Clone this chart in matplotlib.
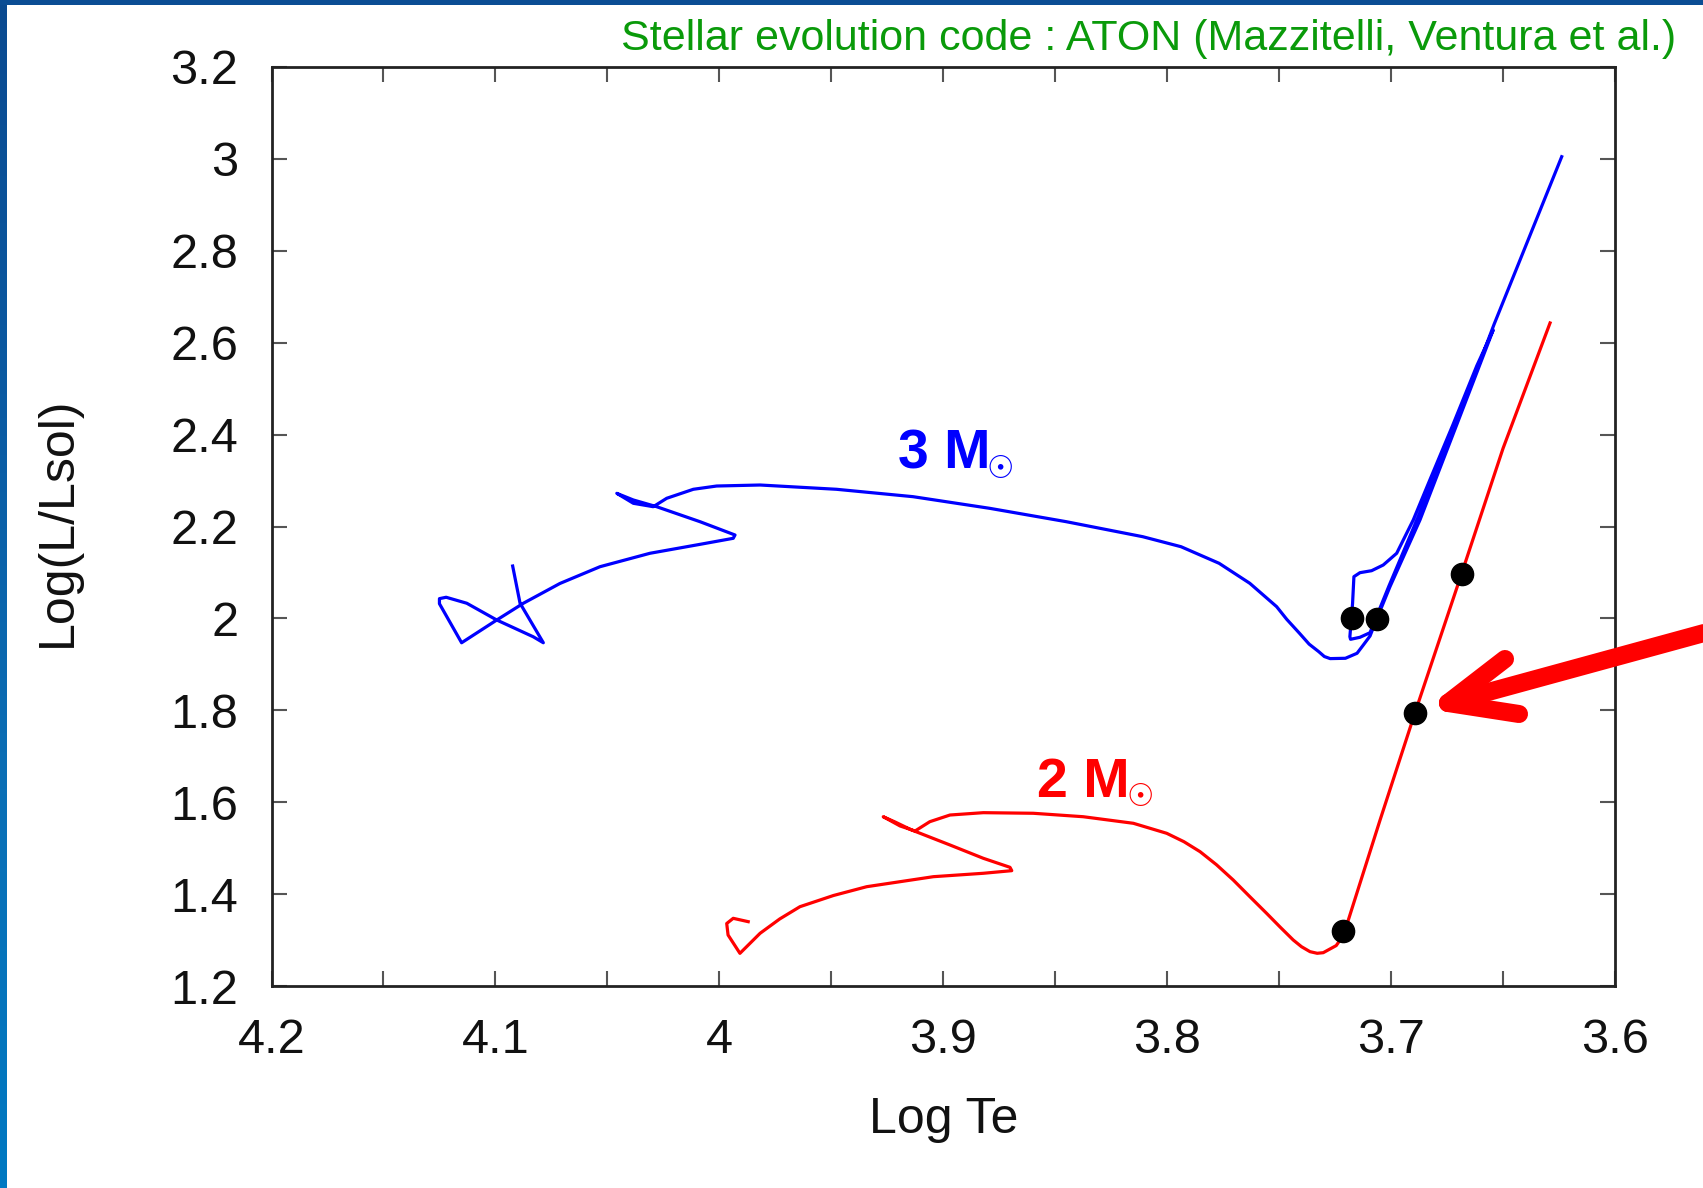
import matplotlib
matplotlib.use('Agg')
import matplotlib.pyplot as plt
from matplotlib.lines import Line2D
from matplotlib.patches import Rectangle
from matplotlib.colors import LinearSegmentedColormap
from matplotlib.ticker import MultipleLocator
import numpy as np

plt.rcParams['font.family'] = ['Liberation Sans', 'DejaVu Sans']

# ---------------- data ----------------
# 3 Msun track (Log Te, Log L/Lsun)
blue_logte = [4.0923, 4.0890, 4.0786, 4.0831, 4.0994, 4.1128, 4.1220, 4.1250,
              4.1250, 4.1151, 4.0994, 4.0875, 4.0712, 4.0533, 4.0310, 4.0086,
              3.9938, 3.9930, 4.0086, 4.0280, 4.0384, 4.0458, 4.0384, 4.0295,
              4.0235, 4.0116, 4.0012, 3.9818, 3.9477, 3.9135, 3.8793, 3.8451,
              3.8109, 3.7938, 3.7768, 3.7631, 3.7511, 3.7466, 3.7409, 3.7366,
              3.7323, 3.7298, 3.7272, 3.7204, 3.7152, 3.7124, 3.7094, 3.7064,
              3.7005, 3.6871, 3.6708, 3.6544, 3.6617, 3.6725, 3.6828, 3.6901,
              3.6975, 3.7035, 3.7087, 3.7139, 3.7166, 3.7172, 3.7184, 3.7181,
              3.7139, 3.7094, 3.7060, 3.7010, 3.6880, 3.6715, 3.6610, 3.6540,
              3.6238]
blue_logl = [2.114, 2.033, 1.947, 1.960, 1.9965, 2.033, 2.046, 2.043,
             2.032, 1.947, 1.9965, 2.033, 2.076, 2.1125, 2.1417, 2.1612,
             2.1743, 2.1815, 2.2104, 2.2431, 2.2577, 2.2722, 2.2505, 2.2431,
             2.2614, 2.2810, 2.2881, 2.2903, 2.2810, 2.2649, 2.2396, 2.2105,
             2.1778, 2.1560, 2.1199, 2.0764, 2.0255, 1.9980, 1.9676, 1.9440,
             1.9276, 1.9170, 1.9125, 1.9132, 1.9241, 1.9421, 1.9617, 1.9987,
             2.0690, 2.2142, 2.4200, 2.6276, 2.5500, 2.4200, 2.3000, 2.2142,
             2.1417, 2.1162, 2.1038, 2.0995, 2.0908, 2.0329, 1.9602, 1.9545,
             1.9589, 1.9689, 2.0100, 2.0700, 2.2200, 2.4200, 2.5500, 2.6400,
             3.0048]

# 2 Msun track
red_logte = [3.9871, 3.9938, 3.9967, 3.9961, 3.9908, 3.9818, 3.9730, 3.9640,
             3.9490, 3.9342, 3.9044, 3.8821, 3.8694, 3.8702, 3.8821, 3.8970,
             3.9141, 3.9215, 3.9268, 3.9193, 3.9126, 3.9060, 3.8970, 3.8821,
             3.8598, 3.8375, 3.8151, 3.8002, 3.7925, 3.7853, 3.7780, 3.7705,
             3.7630, 3.7556, 3.7495, 3.7437, 3.7400, 3.7362, 3.7330, 3.7303,
             3.7245, 3.7225, 3.7205, 3.7050, 3.6893, 3.6685, 3.6500, 3.6290]
red_logl = [1.340, 1.3473, 1.336, 1.311, 1.2711, 1.3147, 1.3460, 1.3726,
            1.3970, 1.4161, 1.4379, 1.4453, 1.451, 1.4583, 1.4779, 1.5069,
            1.5395, 1.5569, 1.5684, 1.5483, 1.5373, 1.5576, 1.5721, 1.5772,
            1.5759, 1.5684, 1.5541, 1.5323, 1.5140, 1.4923, 1.4640, 1.4307,
            1.3940, 1.3582, 1.3280, 1.3001, 1.2855, 1.2747, 1.2712, 1.2725,
            1.2880, 1.3020, 1.3220, 1.5600, 1.7950, 2.0975, 2.3700, 2.6430]

# marked evolutionary points
dots_logte = [3.7176, 3.7064, 3.7213, 3.6893, 3.6685]
dots_logl = [2.000, 1.999, 1.319, 1.795, 2.0975]

xticks = [4.2, 4.1, 4.0, 3.9, 3.8, 3.7, 3.6]
xticklabels = ['4.2', '4.1', '4', '3.9', '3.8', '3.7', '3.6']
yticks = [1.2, 1.4, 1.6, 1.8, 2.0, 2.2, 2.4, 2.6, 2.8, 3.0, 3.2]
yticklabels = ['1.2', '1.4', '1.6', '1.8', '2', '2.2', '2.4', '2.6', '2.8', '3', '3.2']

W, H = 1703, 1188
fig = plt.figure(figsize=(W / 100, H / 100), dpi=100)
fig.patch.set_facecolor('white')

# slide frame (blue strips at top and left)
bg = fig.add_axes([0, 0, 7 / W, 1])
cmap = LinearSegmentedColormap.from_list('frame', ['#0a4a90', '#0a5aa2', '#0a6fb6', '#0079c2'])
bg.imshow(np.linspace(0, 1, 256).reshape(-1, 1), aspect='auto', cmap=cmap,
          extent=[0, 1, 0, 1], origin='upper')
bg.axis('off')
fig.add_artist(Rectangle((0, 1 - 5 / H), 1, 5 / H, transform=fig.transFigure,
                         facecolor='#0b4d94', edgecolor='none'))

ax = fig.add_axes([271.5 / W, 1 - 986 / H, (1615 - 271.5) / W, (986 - 67) / H])
ax.plot(blue_logte, blue_logl, color='#0000ff', lw=2.3, solid_joinstyle='round')
ax.plot(red_logte, red_logl, color='#ff0000', lw=2.3, solid_joinstyle='round')
ax.plot(dots_logte, dots_logl, 'o', color='black', ms=16, zorder=5)

ax.set_xlim(4.2, 3.6)
ax.set_ylim(1.2, 3.2)
ax.set_xticks(xticks)
ax.set_xticklabels(xticklabels)
ax.xaxis.set_minor_locator(MultipleLocator(0.05))
ax.set_yticks(yticks)
ax.set_yticklabels(yticklabels)
ax.tick_params(which='both', direction='in', top=True, right=True,
               length=11, width=1.5, color='#555555')
ax.tick_params(axis='x', which='major', pad=23, labelsize=35, labelcolor='#111111')
ax.tick_params(axis='y', which='major', pad=24, labelsize=35, labelcolor='#111111')
for s in ax.spines.values():
    s.set_linewidth(2.0)
    s.set_color('#222222')

ax.set_xlabel('Log Te', fontsize=36, color='#111111', va='baseline')
ax.xaxis.set_label_coords(0.5, -0.16)
ax.set_ylabel('Log(L/Lsol)', fontsize=36, color='#111111', va='baseline')
ax.yaxis.set_label_coords(-0.149, 0.505)

# mass labels
ax.text(3.920, 2.327, '3 M', color='#0000ff', fontsize=40, fontweight='bold',
        ha='left', va='baseline')
ax.text(3.8745, 2.325, '\u2609', color='#0000ff', fontsize=22, family='DejaVu Sans',
        ha='center', va='center')
ax.text(3.858, 1.612, '2 M', color='#ff0000', fontsize=40, fontweight='bold',
        ha='left', va='baseline')
ax.text(3.8122, 1.610, '\u2609', color='#ff0000', fontsize=22, family='DejaVu Sans',
        ha='center', va='center')

# credit line
fig.text(1676 / W, 1 - 50 / H, 'Stellar evolution code : ATON (Mazzitelli, Ventura et al.)',
         color='#0a9a0a', fontsize=31, ha='right', va='baseline',
         family=['Liberation Sans Narrow', 'Liberation Sans'])

# red arrow pointing at the marked point
def fx(px):
    return px / W

def fy(py):
    return 1 - py / H

tip = (1448, 703)
for end in [(1715, 630), (1505, 659), (1519, 714)]:
    fig.add_artist(Line2D([fx(tip[0]), fx(end[0])], [fy(tip[1]), fy(end[1])],
                          transform=fig.transFigure, color='#ff0000', lw=13,
                          solid_capstyle='round', clip_on=False))

fig.savefig('out.png', dpi=100)
